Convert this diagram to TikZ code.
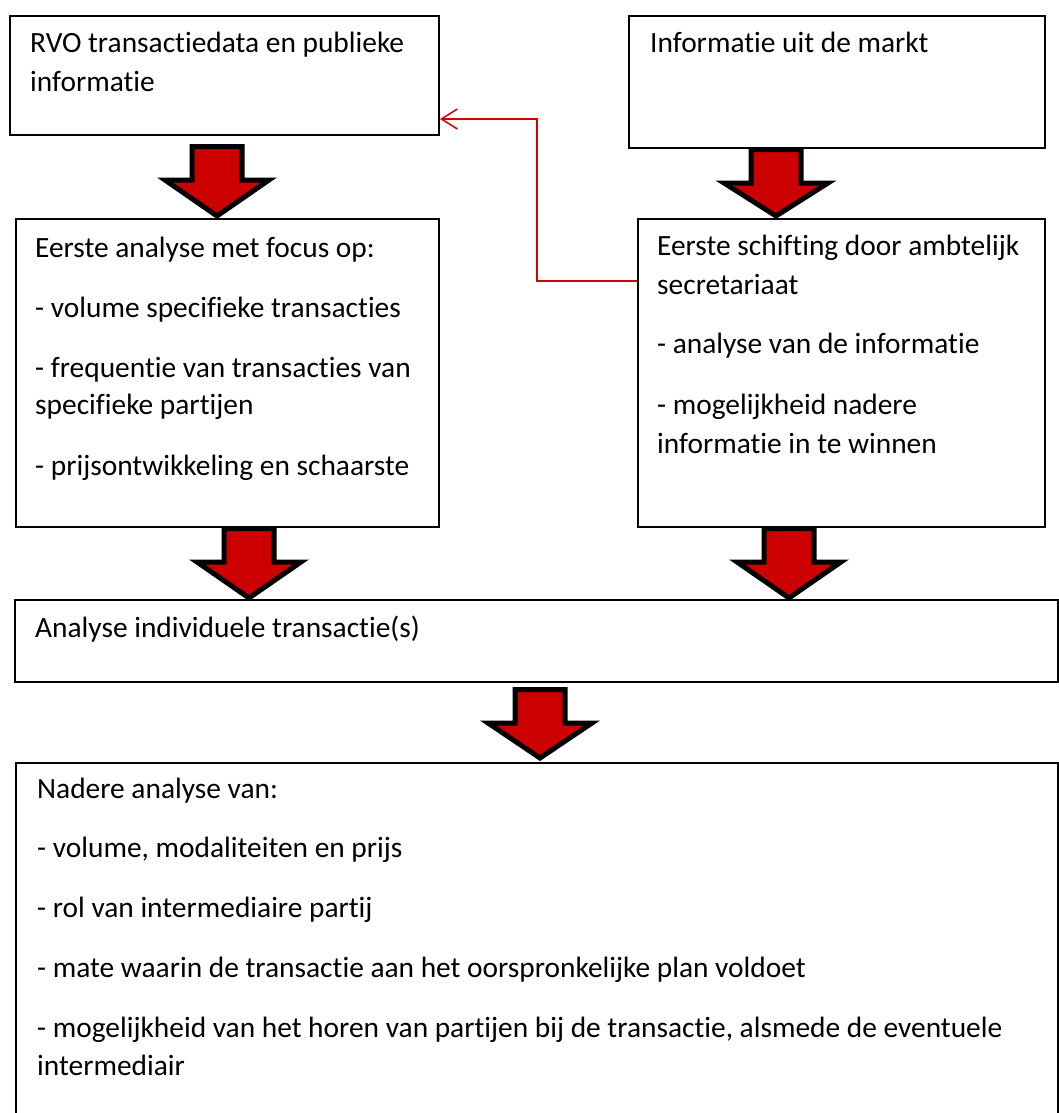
\documentclass[tikz,border=0pt]{standalone}
\usepackage{fontspec}
\setmainfont{Carlito}[Ligatures={NoCommon}]
\usetikzlibrary{arrows.meta}
\definecolor{blockred}{RGB}{204,0,0}
\definecolor{linkred}{RGB}{210,0,0}
\tikzset{
  boxnode/.style={draw=black, line width=2pt, rectangle, inner sep=0pt, anchor=north west},
  txt/.style={anchor=base west, inner sep=0pt, font=\fontsize{29.4}{36}\selectfont},
  blockarrow/.style={fill=blockred, draw=black, line width=5pt, miter limit=10},
  linkline/.style={draw=linkred, line width=1.5pt, -{Straight Barb[length=16pt,width=20pt,line width=1.5pt]}}
}
\newcommand{\blockarr}[4]{% name, x, ytop, ytip
  \path[blockarrow] (#2-25,#3+2.5) -- (#2+25,#3+2.5) -- (#2+25,#3+36) -- (#2+52,#3+36)
     -- (#2,#4-4) -- (#2-52,#3+36) -- (#2-25,#3+36) -- cycle;
  \coordinate (#1) at (#2,#4);
}
\begin{document}
\begin{tikzpicture}[x=1pt,y=-1pt]
\useasboundingbox (0,0) rectangle (1059,1113);
\clip (0,0) rectangle (1059,1113);
% boxes
\node[boxnode, minimum width=429pt, minimum height=119pt] (b1) at (9,15) {};
\node[boxnode, minimum width=416pt, minimum height=132pt] (b2) at (628,15) {};
\node[boxnode, minimum width=423pt, minimum height=308pt] (b3) at (15,218) {};
\node[boxnode, minimum width=407pt, minimum height=308pt] (b4) at (637,218) {};
\node[boxnode, minimum width=1043pt, minimum height=82pt] (b5) at (14,599) {};
\node[boxnode, minimum width=1042pt, minimum height=380pt] (b6) at (15,762) {};
% texts
\node[txt] (t1a) at (30,53) {RVO transactiedata en publieke};
\node[txt] (t1b) at (30,92) {informatie};
\node[txt] (t2a) at (650,53) {Informatie uit de markt};
\node[txt] (t3a) at (35,257) {Eerste analyse met focus op:};
\node[txt] (t3b) at (35,317) {- volume specifieke transacties};
\node[txt] (t3c) at (35,377) {- frequentie van transacties van};
\node[txt] (t3d) at (35,414) {specifieke partijen};
\node[txt] (t3e) at (35,475) {- prijsontwikkeling en schaarste};
\node[txt] (t4a) at (657,255) {Eerste schifting door ambtelijk};
\node[txt] (t4b) at (657,294) {secretariaat};
\node[txt] (t4c) at (657,353) {- analyse van de informatie};
\node[txt] (t4d) at (657,414) {- mogelijkheid nadere};
\node[txt] (t4e) at (657,453) {informatie in te winnen};
\node[txt] (t5a) at (35,637) {Analyse individuele transactie(s)};
\node[txt] (t6a) at (37,798) {Nadere analyse van:};
\node[txt] (t6b) at (37,857) {- volume, modaliteiten en prijs};
\node[txt] (t6c) at (37,917) {- rol van intermediaire partij};
\node[txt] (t6d) at (37,977) {- mate waarin de transactie aan het oorspronkelijke plan voldoet};
\node[txt] (t6e) at (37,1037) {- mogelijkheid van het horen van partijen bij de transactie, alsmede de eventuele};
\node[txt] (t6f) at (37,1075) {intermediair};
% block arrows
\blockarr{a1}{217}{144}{220}
\blockarr{a2}{776}{147}{220}
\blockarr{a3}{249}{526}{602}
\blockarr{a4}{789}{526}{602}
\blockarr{a5}{540}{687}{762}
% red feedback connector
\coordinate (r0) at (b4.west |- 0,281);
\coordinate (r1) at (537,119);
\draw[linkline] (r0) -| (r1) -- (b1.east |- r1);
\end{tikzpicture}
\end{document}
